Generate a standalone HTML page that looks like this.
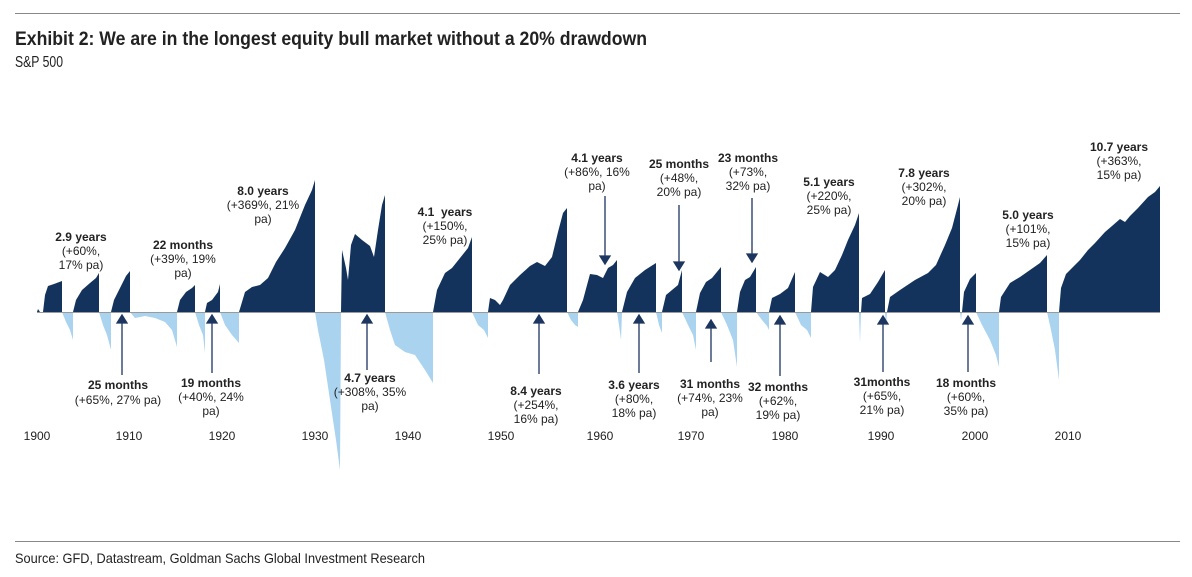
<!DOCTYPE html>
<html><head><meta charset="utf-8"><style>
html,body{margin:0;padding:0;background:#fff}
svg{display:block}
text{font-family:"Liberation Sans",Arial,sans-serif;fill:#222}
.b{font-weight:bold;font-size:12px}
.n{font-size:12px}
.ax{font-size:12px;fill:#111}
</style></head><body>
<svg width="1192" height="577" viewBox="0 0 1192 577" xmlns="http://www.w3.org/2000/svg">
<line x1="15" y1="13.5" x2="1180" y2="13.5" stroke="#888" stroke-width="1"/>
<line x1="15" y1="541.5" x2="1180" y2="541.5" stroke="#888" stroke-width="1"/>
<text x="15" y="45" style="font-weight:bold;font-size:19px" textLength="632" lengthAdjust="spacingAndGlyphs">Exhibit 2: We are in the longest equity bull market without a 20% drawdown</text>
<text x="15" y="67" style="font-size:16px" textLength="48" lengthAdjust="spacingAndGlyphs">S&amp;P 500</text>
<text x="15" y="563" style="font-size:14px" textLength="410" lengthAdjust="spacingAndGlyphs">Source: GFD, Datastream, Goldman Sachs Global Investment Research</text>

<g fill="#a9d3ef">
<polygon points="62,312 66,322 70,330 73,340 73,312"/>
<polygon points="99,312 103,325 107,335 111,350 111,312"/>
<polygon points="130,312 135,318 145,316 155,318 165,322 172,330 177,347 177,312"/>
<polygon points="195,312 199,325 203,335 205,353 205,312"/>
<polygon points="220,312 225,325 232,335 239,343 239,312"/>
<polygon points="315,312 318,330 324,360 330,400 336,440 340,470 341,312"/>
<polygon points="385,312 390,330 395,345 405,352 415,355 425,370 433,383 433,312"/>
<polygon points="472,312 478,325 484,330 488,338 488,312"/>
<polygon points="567,312 571,320 575,325 578,327 578,312"/>
<polygon points="617,312 619,325 621,340 622,312"/>
<polygon points="656,312 659,325 662,333 662,312"/>
<polygon points="682,312 688,325 693,335 696,350 696,312"/>
<polygon points="721,312 727,325 733,340 737,367 737,312"/>
<polygon points="756,312 762,320 767,326 769,330 769,312"/>
<polygon points="795,312 801,325 807,330 811,338 811,312"/>
<polygon points="859,312 860,343 861,312"/>
<polygon points="885,312 886,327 887,312"/>
<polygon points="960,312 961,320 962,312"/>
<polygon points="976,312 982,325 990,340 996,355 999,367 999,312"/>
<polygon points="1047,312 1051,330 1055,350 1059,380 1059,312"/>
</g>
<g fill="#13335c">
<polygon points="37,312 38,309 40,312"/>
<polygon points="43,312 45,295 48,286 54,284 62,281 62,312"/>
<polygon points="73,312 76,300 82,290 90,283 96,278 99,273 99,312"/>
<polygon points="111,312 114,300 120,288 126,276 130,271 130,312"/>
<polygon points="177,312 180,300 186,292 192,288 195,285 195,312"/>
<polygon points="205,312 207,303 212,300 218,292 220,284 220,312"/>
<polygon points="239,312 245,292 252,287 260,285 268,278 276,262 285,248 295,230 305,205 312,190 315,180 315,312"/>
<polygon points="341,312 342,250 346,268 348,280 351,245 355,234 362,240 370,246 374,257 378,230 382,205 385,195 385,312"/>
<polygon points="433,312 437,290 445,273 452,268 460,258 468,248 472,237 472,312"/>
<polygon points="488,312 490,298 495,300 500,305 503,300 510,285 520,275 530,266 537,262 545,266 552,257 558,232 563,213 567,208 567,312"/>
<polygon points="578,312 583,300 590,274 597,275 603,278 608,268 613,265 617,260 617,312"/>
<polygon points="622,312 627,292 635,278 645,270 656,263 656,312"/>
<polygon points="662,312 666,295 672,290 678,285 682,270 682,312"/>
<polygon points="696,312 700,293 706,282 712,278 721,267 721,312"/>
<polygon points="737,312 740,292 745,280 750,277 756,267 756,312"/>
<polygon points="769,312 772,298 780,294 788,288 795,272 795,312"/>
<polygon points="811,312 813,287 820,272 828,277 835,270 842,255 848,240 855,225 859,213 859,312"/>
<polygon points="861,312 862,298 870,294 878,282 885,270 885,312"/>
<polygon points="887,312 890,297 900,290 915,280 928,273 936,265 945,245 952,228 958,205 960,197 960,312"/>
<polygon points="962,312 964,292 970,279 976,273 976,312"/>
<polygon points="999,312 1001,297 1010,283 1020,277 1030,270 1040,263 1047,255 1047,312"/>
<polygon points="1059,312 1061,288 1066,274 1072,268 1080,260 1088,250 1095,243 1105,232 1112,226 1120,219 1125,222 1130,216 1138,208 1148,197 1155,192 1160,186 1160,312"/>
</g>
<line x1="37" y1="312.5" x2="1160" y2="312.5" stroke="#9a9a9a" stroke-width="1"/>

<g class="ax" text-anchor="middle">
<text x="37" y="440">1900</text><text x="129" y="440">1910</text><text x="222" y="440">1920</text><text x="315" y="440">1930</text><text x="408" y="440">1940</text><text x="501" y="440">1950</text><text x="600" y="440">1960</text><text x="691" y="440">1970</text><text x="785" y="440">1980</text><text x="881" y="440">1990</text><text x="975" y="440">2000</text><text x="1068" y="440">2010</text>
</g>

<g stroke="#1c3660" stroke-width="1.3" fill="#1c3660">
<line x1="605" y1="196" x2="605" y2="256"/><polygon points="600,256 610,256 605,264"/>
<line x1="679" y1="205" x2="679" y2="262"/><polygon points="674,262 684,262 679,270"/>
<line x1="752" y1="198" x2="752" y2="254"/><polygon points="747,254 757,254 752,262"/>
<line x1="122" y1="322" x2="122" y2="375"/><polygon points="117,323 127,323 122,315"/>
<line x1="212" y1="322" x2="212" y2="373"/><polygon points="207,323 217,323 212,315"/>
<line x1="367" y1="322" x2="367" y2="370"/><polygon points="362,323 372,323 367,315"/>
<line x1="539" y1="322" x2="539" y2="374"/><polygon points="534,323 544,323 539,315"/>
<line x1="639" y1="322" x2="639" y2="373"/><polygon points="634,323 644,323 639,315"/>
<line x1="711" y1="327" x2="711" y2="362"/><polygon points="706,328 716,328 711,320"/>
<line x1="780" y1="323" x2="780" y2="376"/><polygon points="775,324 785,324 780,316"/>
<line x1="883" y1="323" x2="883" y2="372"/><polygon points="878,324 888,324 883,316"/>
<line x1="968" y1="323" x2="968" y2="372"/><polygon points="963,324 973,324 968,316"/>
</g>

<g text-anchor="middle">
<text class="b" x="81" y="241">2.9 years</text><text class="n" x="81" y="255">(+60%,</text><text class="n" x="81" y="269">17% pa)</text>
<text class="b" x="183" y="249">22 months</text><text class="n" x="183" y="263">(+39%, 19%</text><text class="n" x="183" y="277">pa)</text>
<text class="b" x="263" y="195">8.0 years</text><text class="n" x="263" y="209">(+369%, 21%</text><text class="n" x="263" y="223">pa)</text>
<text class="b" x="445" y="216" xml:space="preserve">4.1  years</text><text class="n" x="445" y="230">(+150%,</text><text class="n" x="445" y="244">25% pa)</text>
<text class="b" x="597" y="162">4.1 years</text><text class="n" x="597" y="176">(+86%, 16%</text><text class="n" x="597" y="190">pa)</text>
<text class="b" x="679" y="168">25 months</text><text class="n" x="679" y="182">(+48%,</text><text class="n" x="679" y="196">20% pa)</text>
<text class="b" x="748" y="162">23 months</text><text class="n" x="748" y="176">(+73%,</text><text class="n" x="748" y="190">32% pa)</text>
<text class="b" x="829" y="186">5.1 years</text><text class="n" x="829" y="200">(+220%,</text><text class="n" x="829" y="214">25% pa)</text>
<text class="b" x="924" y="177">7.8 years</text><text class="n" x="924" y="191">(+302%,</text><text class="n" x="924" y="205">20% pa)</text>
<text class="b" x="1028" y="219">5.0 years</text><text class="n" x="1028" y="233">(+101%,</text><text class="n" x="1028" y="247">15% pa)</text>
<text class="b" x="1119" y="151">10.7 years</text><text class="n" x="1119" y="165">(+363%,</text><text class="n" x="1119" y="179">15% pa)</text>

<text class="b" x="118" y="389">25 months</text><text class="n" x="118" y="404">(+65%, 27% pa)</text>
<text class="b" x="211" y="387">19 months</text><text class="n" x="211" y="401">(+40%, 24%</text><text class="n" x="211" y="415">pa)</text>
<text class="b" x="370" y="382">4.7 years</text><text class="n" x="370" y="396">(+308%, 35%</text><text class="n" x="370" y="410">pa)</text>
<text class="b" x="536" y="395">8.4 years</text><text class="n" x="536" y="409">(+254%,</text><text class="n" x="536" y="423">16% pa)</text>
<text class="b" x="634" y="389">3.6 years</text><text class="n" x="634" y="403">(+80%,</text><text class="n" x="634" y="417">18% pa)</text>
<text class="b" x="710" y="388">31 months</text><text class="n" x="710" y="402">(+74%, 23%</text><text class="n" x="710" y="416">pa)</text>
<text class="b" x="778" y="391">32 months</text><text class="n" x="778" y="405">(+62%,</text><text class="n" x="778" y="419">19% pa)</text>
<text class="b" x="882" y="386">31months</text><text class="n" x="882" y="400">(+65%,</text><text class="n" x="882" y="414">21% pa)</text>
<text class="b" x="966" y="387">18 months</text><text class="n" x="966" y="401">(+60%,</text><text class="n" x="966" y="415">35% pa)</text>
</g>
</svg>
</body></html>
